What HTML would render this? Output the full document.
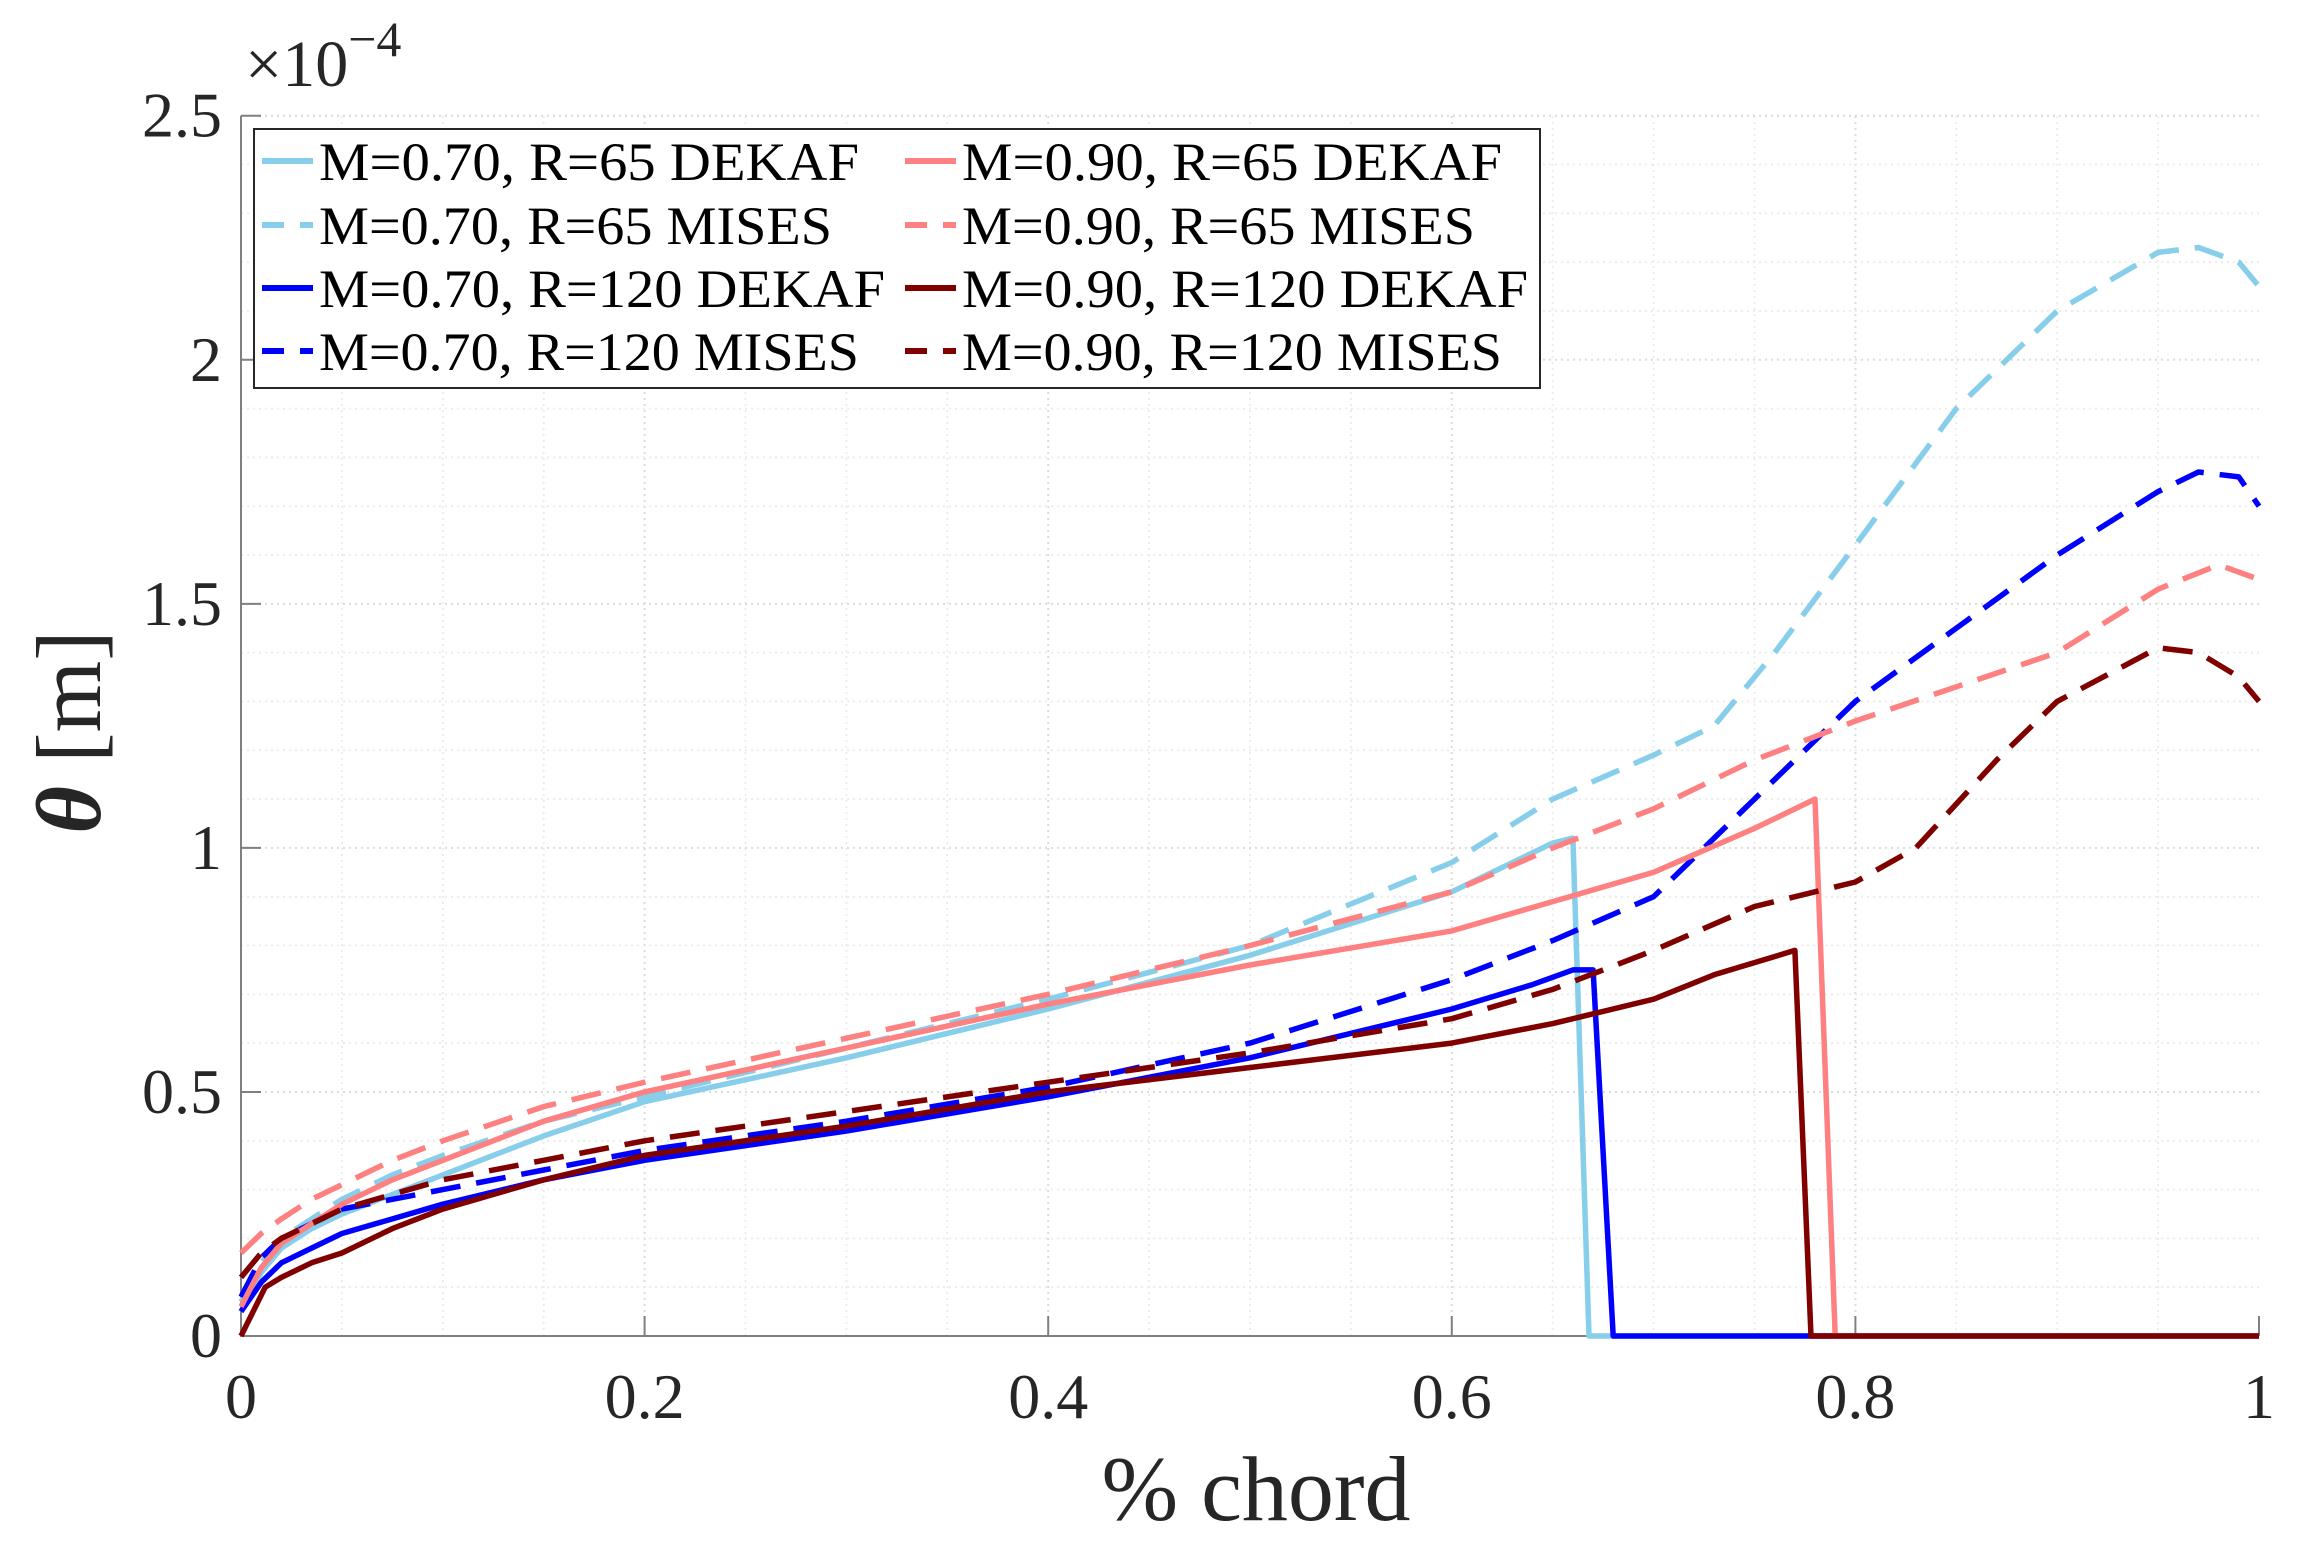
<!DOCTYPE html>
<html><head><meta charset="utf-8"><style>
body{margin:0;background:#fff}
svg{display:block;font-family:"Liberation Serif",serif}
</style></head><body>
<svg id="chart" width="2308" height="1553" viewBox="0 0 2308 1553">
<g id="grid"></g>
<g id="axes"></g>
<g id="series"></g>
<g id="legend"></g>
<text x="245" y="86" font-size="66" fill="#262626">×10<tspan dy="-30" font-size="50">−4</tspan></text>
<text x="1256" y="1520" font-size="92" text-anchor="middle" fill="#262626">% chord</text>
<text transform="translate(100,732) rotate(-90)" font-size="92" text-anchor="middle" fill="#262626"><tspan font-style="italic" font-weight="bold">θ</tspan>  [m]</text>
</svg>
<script>
const xTicks=[0,0.2,0.4,0.6,0.8,1];
const xTickLabels=["0","0.2","0.4","0.6","0.8","1"];
const yTicks=[0,0.5,1,1.5,2,2.5];
const yTickLabels=["0","0.5","1","1.5","2","2.5"];
const seriesNames=["M=0.70, R=65 DEKAF","M=0.70, R=65 MISES","M=0.70, R=120 DEKAF","M=0.70, R=120 MISES","M=0.90, R=65 DEKAF","M=0.90, R=65 MISES","M=0.90, R=120 DEKAF","M=0.90, R=120 MISES"];
const x_lbD=[0,0.01,0.02,0.035,0.05,0.075,0.1,0.15,0.2,0.3,0.4,0.5,0.6,0.64,0.65,0.66,0.668,1];
const y_lbD=[0.05,0.13,0.18,0.22,0.25,0.29,0.33,0.41,0.48,0.57,0.67,0.78,0.91,0.99,1.01,1.02,0,0];
const x_lbM=[0,0.01,0.02,0.035,0.05,0.075,0.1,0.15,0.2,0.3,0.4,0.5,0.6,0.65,0.7,0.73,0.76,0.8,0.85,0.9,0.95,0.97,0.99,1];
const y_lbM=[0.07,0.15,0.2,0.24,0.28,0.33,0.37,0.44,0.49,0.59,0.69,0.8,0.97,1.1,1.19,1.25,1.4,1.62,1.9,2.1,2.22,2.23,2.2,2.15];
const x_bD=[0,0.01,0.02,0.035,0.05,0.075,0.1,0.15,0.2,0.3,0.4,0.5,0.6,0.64,0.66,0.67,0.68,1];
const y_bD=[0.05,0.11,0.15,0.18,0.21,0.24,0.27,0.32,0.36,0.42,0.49,0.57,0.67,0.72,0.75,0.75,0,0];
const x_bM=[0,0.01,0.02,0.035,0.05,0.075,0.1,0.15,0.2,0.3,0.4,0.5,0.6,0.65,0.7,0.75,0.8,0.85,0.9,0.95,0.97,0.99,1];
const y_bM=[0.08,0.16,0.2,0.23,0.26,0.28,0.3,0.34,0.38,0.44,0.51,0.6,0.73,0.81,0.9,1.1,1.3,1.45,1.6,1.73,1.77,1.76,1.7];
const x_sD=[0,0.01,0.02,0.035,0.05,0.075,0.1,0.15,0.2,0.3,0.4,0.5,0.6,0.65,0.7,0.75,0.78,0.79,1];
const y_sD=[0.06,0.14,0.19,0.23,0.27,0.32,0.36,0.44,0.5,0.59,0.68,0.76,0.83,0.89,0.95,1.04,1.1,0,0];
const x_sM=[0,0.01,0.02,0.035,0.05,0.075,0.1,0.15,0.2,0.3,0.4,0.5,0.6,0.65,0.7,0.75,0.8,0.85,0.9,0.95,0.98,1];
const y_sM=[0.17,0.21,0.24,0.28,0.31,0.36,0.4,0.47,0.52,0.61,0.7,0.8,0.91,1.0,1.08,1.18,1.26,1.33,1.4,1.53,1.58,1.55];
const x_rD=[0,0.012,0.02,0.035,0.05,0.075,0.1,0.15,0.2,0.3,0.4,0.5,0.6,0.65,0.7,0.73,0.77,0.778,1];
const y_rD=[0,0.1,0.12,0.15,0.17,0.22,0.26,0.32,0.37,0.43,0.5,0.55,0.6,0.64,0.69,0.74,0.79,0,0];
const x_rM=[0,0.01,0.02,0.035,0.05,0.075,0.1,0.15,0.2,0.3,0.4,0.5,0.6,0.65,0.7,0.75,0.8,0.83,0.87,0.9,0.95,0.97,0.99,1];
const y_rM=[0.12,0.17,0.2,0.23,0.26,0.29,0.32,0.36,0.4,0.46,0.52,0.58,0.65,0.71,0.79,0.88,0.93,1.0,1.18,1.3,1.41,1.4,1.35,1.3];

const X0=241,X1=2259,Y0=1336,Y1=115.7;
const sx=v=>X0+(X1-X0)*v;
const sy=v=>Y0-(Y0-Y1)*v/2.5;
const NS="http://www.w3.org/2000/svg";
function mk(tag,attrs,parent){const e=document.createElementNS(NS,tag);for(const k in attrs)e.setAttribute(k,attrs[k]);parent.appendChild(e);return e;}
const grid=document.getElementById('grid'),axes=document.getElementById('axes'),ser=document.getElementById('series'),leg=document.getElementById('legend');
for(let i=1;i<20;i++){const v=i*0.05;const l=mk('line',{x1:sx(v),x2:sx(v),y1:Y0,y2:Y1,stroke:i%4==0?'#dcdcdc':'#ececec','stroke-width':2,'stroke-dasharray':'2 4'},grid);

}
for(let i=1;i<=25;i++){const v=i*0.1;const l=mk('line',{x1:X0,x2:X1,y1:sy(v),y2:sy(v),stroke:i%5==0?'#dcdcdc':'#ececec','stroke-width':2,'stroke-dasharray':'2 4'},grid);

}
const ax=mk('path',{d:`M${X0} ${Y1}V${Y0}H${X1}`,fill:'none',stroke:'#808080','stroke-width':2},axes);


xTicks.forEach((v,i)=>{mk('line',{x1:sx(v),x2:sx(v),y1:Y0,y2:Y0-20,stroke:'#808080','stroke-width':2},axes);
const t=mk('text',{x:sx(v),y:1418,'font-size':64,'text-anchor':'middle',fill:'#262626'},axes);t.textContent=xTickLabels[i];

});
yTicks.forEach((v,i)=>{mk('line',{x1:X0,x2:X0+20,y1:sy(v),y2:sy(v),stroke:'#808080','stroke-width':2},axes);
const t=mk('text',{x:222,y:sy(v)+21,'font-size':64,'text-anchor':'end',fill:'#262626'},axes);t.textContent=yTickLabels[i];

});
const defs=[[x_lbD,y_lbD,'#87CEEB',false],[x_lbM,y_lbM,'#87CEEB',true],[x_bD,y_bD,'#0000FF',false],[x_bM,y_bM,'#0000FF',true],
[x_sD,y_sD,'#FF8080',false],[x_sM,y_sM,'#FF8080',true],[x_rD,y_rD,'#800000',false],[x_rM,y_rM,'#800000',true]];
defs.forEach((d,i)=>{const pts=d[0].map((x,j)=>sx(x).toFixed(1)+','+sy(d[1][j]).toFixed(1)).join(' ');
const a={points:pts,fill:'none',stroke:d[2],'stroke-width':5.5,'stroke-linejoin':'round'};if(d[3])a['stroke-dasharray']='30 16';
const p=mk('polyline',a,ser);

});
const box=mk('rect',{x:254,y:129,width:1286,height:259,fill:'#fff',stroke:'#262626','stroke-width':2},leg);


const rowsY=[161,225,288,351];
const lens=[540,513,566,540];
defs.forEach((d,i)=>{const col=i<4?0:1,row=i%4;const lx=col?905:262,tx=col?962:319,y=rowsY[row];
const a={x1:lx,x2:lx+51,y1:y,y2:y,stroke:d[2],'stroke-width':6};if(d[3])a['stroke-dasharray']='22 16';
mk('line',a,leg);
const t=mk('text',{x:tx,y:y+19,'font-size':54,fill:'#000',textLength:lens[row],lengthAdjust:'spacingAndGlyphs'},leg);t.textContent=seriesNames[i];

});
</script>
</body></html>
